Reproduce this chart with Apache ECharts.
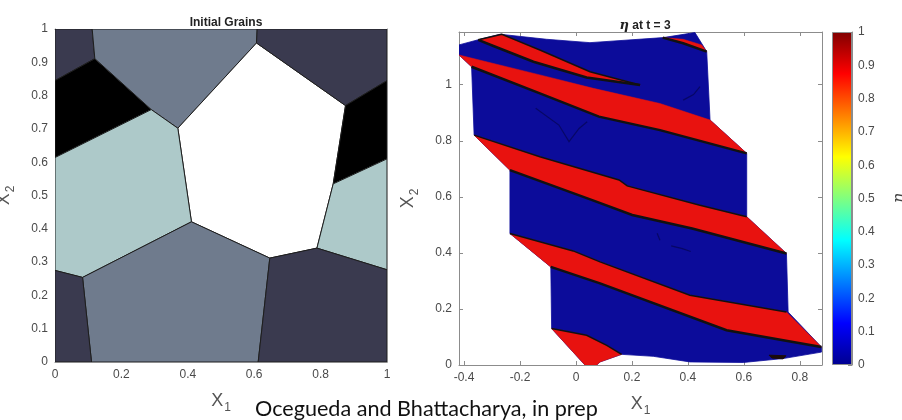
<!DOCTYPE html>
<html>
<head>
<meta charset="utf-8">
<script src="https://cdn.jsdelivr.net/npm/echarts@6/dist/echarts.min.js"></script>
<style>
    html, body { margin: 0; padding: 0; background: #fff; }
    #main { width: 902px; height: 420px; }
</style>
</head>
<body>
<div id="main"></div>
<script>
// ---- left panel: initial grains (x1, x2 in [0,1]) ----
var grainPolys = [
    [[0, 1], [0.112, 1], [0.12, 0.911], [0, 0.845]],
    [[0, 0.845], [0.12, 0.911], [0.29, 0.758], [0, 0.614]],
    [[0.112, 1], [0.609, 1], [0.607, 0.958], [0.37, 0.702], [0.29, 0.758], [0.12, 0.911]],
    [[0.607, 0.958], [0.875, 0.77], [0.838, 0.535], [0.789, 0.342], [0.647, 0.312], [0.411, 0.421], [0.37, 0.702]],
    [[0.609, 1], [1, 1], [1, 0.845], [0.875, 0.77], [0.607, 0.958]],
    [[0.875, 0.77], [1, 0.845], [1, 0.61], [0.838, 0.535]],
    [[0, 0.614], [0.29, 0.758], [0.37, 0.702], [0.411, 0.421], [0.083, 0.254], [0, 0.275]],
    [[0.838, 0.535], [1, 0.61], [1, 0.277], [0.789, 0.342]],
    [[0.083, 0.254], [0.411, 0.421], [0.647, 0.312], [0.612, 0], [0.11, 0]],
    [[0, 0.275], [0.083, 0.254], [0.11, 0], [0, 0]],
    [[0.647, 0.312], [0.789, 0.342], [1, 0.277], [1, 0], [0.612, 0]]
];
var grainShade = [0, 1, 2, 4, 0, 1, 3, 3, 2, 0, 0];
var shadeColors = ['#3a3a4f', '#000000', '#6f7b8d', '#adc9c9', '#ffffff'];

// ---- right panel: eta at t = 3 (deformed domain) ----
var outline = [
    [-0.418, 1.142], [-0.343, 1.162], [-0.271, 1.180], [-0.105, 1.162], [0.050, 1.150],
    [0.312, 1.168], [0.425, 1.186], [0.467, 1.118], [0.479, 0.874], [0.610, 0.755],
    [0.610, 0.529], [0.752, 0.398], [0.758, 0.189], [0.877, 0.064], [0.877, 0.046],
    [0.740, 0.023], [0.598, 0.009], [0.407, 0.011], [0.276, 0.031], [0.163, 0.038],
    [0.086, 0.011], [0.074, 0.0], [0.032, 0.0], [-0.087, 0.130], [-0.090, 0.350],
    [-0.236, 0.469], [-0.236, 0.695], [-0.364, 0.820], [-0.373, 1.064], [-0.418, 1.106]
];
// red bands (eta ~ 0.9): upper edge and lower edge
var stripeUpper = [
    [[-0.349, 1.160], [-0.265, 1.180], [-0.129, 1.124], [0.050, 1.046], [0.229, 0.999]],
    [[-0.418, 1.106], [-0.129, 1.035], [0.062, 0.987], [0.300, 0.933], [0.479, 0.874]],
    [[-0.364, 0.820], [-0.129, 0.743], [0.154, 0.660], [0.183, 0.639], [0.443, 0.570], [0.610, 0.529]],
    [[-0.236, 0.469], [-0.010, 0.407], [0.086, 0.368], [0.407, 0.249], [0.752, 0.189]],
    [[-0.087, 0.130], [0.038, 0.106], [0.110, 0.070], [0.163, 0.038]],
    [[0.310, 1.168], [0.383, 1.162], [0.449, 1.142], [0.467, 1.118]]
];
var stripeLower = [
    [[-0.349, 1.160], [-0.295, 1.138], [-0.152, 1.082], [0.038, 1.026], [0.229, 0.999]],
    [[-0.373, 1.064], [-0.129, 0.969], [0.082, 0.886], [0.300, 0.838], [0.610, 0.755]],
    [[-0.236, 0.695], [0.058, 0.588], [0.201, 0.535], [0.415, 0.487], [0.752, 0.398]],
    [[-0.090, 0.350], [0.086, 0.291], [0.538, 0.124], [0.877, 0.064]],
    [[0.032, 0.0], [0.074, 0.0], [0.086, 0.011], [0.163, 0.038]],
    [[0.310, 1.168], [0.383, 1.148], [0.467, 1.118]]
];
// which band edges are interfaces (drawn black)
var edgeDrawn = [[1, 1], [0, 1], [1, 1], [1, 1], [1, 0], [0, 1]];
// faint contour traces inside the blue zones, and small dark spots at the bottom
var traceLines = [
    [[-0.144, 0.916], [-0.061, 0.856], [-0.025, 0.797], [0.011, 0.844], [0.040, 0.868]],
    [[0.383, 0.945], [0.420, 0.965], [0.443, 0.993]],
    [[0.290, 0.470], [0.300, 0.445]],
    [[0.340, 0.425], [0.380, 0.415], [0.410, 0.405]]
];
var darkSpots = [
    [[0.690, 0.035], [0.750, 0.033], [0.740, 0.022], [0.700, 0.025]],
    [[0.035, 0.0], [0.070, 0.0], [0.075, 0.008], [0.045, 0.010]]
];
var lowColor = '#0c0c9a';
var highColor = '#e8120f';

// ---- tick labels ----
var leftXTicks = [0, 0.2, 0.4, 0.6, 0.8, 1];
var barTicks = [0, 0.1, 0.2, 0.3, 0.4, 0.5, 0.6, 0.7, 0.8, 0.9, 1];

var jetStops = [
    { offset: 0, color: '#00008f' },
    { offset: 0.125, color: '#0000ff' },
    { offset: 0.375, color: '#00ffff' },
    { offset: 0.625, color: '#ffff00' },
    { offset: 0.875, color: '#ff0000' },
    { offset: 1, color: '#800000' }
];

var axisGray = '#8c8c8c';
var labelGray = '#4a4a4a';
var font = 'Liberation Sans, Arial, sans-serif';

function xName(sub) {
    return '{x|X}{s|' + sub + '}';
}
var nameRich = {
    x: { fontSize: 18, color: '#555', fontFamily: font, verticalAlign: 'top' },
    s: { fontSize: 12, color: '#555', fontFamily: font, verticalAlign: 'top', padding: [10, 0, 0, 1] }
};

function boxAxis(gridIndex, pos, extra) {
    var ax = {
        gridIndex: gridIndex,
        type: 'value',
        position: pos,
        axisLine: { show: true, onZero: false, lineStyle: { color: axisGray, width: 1 } },
        axisTick: { show: true, inside: true, length: 4, lineStyle: { color: axisGray } },
        axisLabel: { show: false },
        splitLine: { show: false }
    };
    for (var k in extra) ax[k] = extra[k];
    return ax;
}

var labelStyle = { show: true, color: labelGray, fontSize: 12, fontFamily: font, margin: 7 };

var myChart = echarts.init(document.getElementById('main'), null, { renderer: 'canvas' });

var option = {
    animation: false,
    backgroundColor: '#fff',
    title: [{
        text: 'Initial Grains',
        left: 221, top: 12, textAlign: 'center',
        textStyle: { fontSize: 12, fontWeight: 'bold', color: '#222', fontFamily: font }
    }, {
        text: '{e|η} at t = 3',
        left: 640, top: 14, textAlign: 'center',
        textStyle: {
            fontSize: 12, fontWeight: 'bold', color: '#222', fontFamily: font,
            rich: { e: { fontSize: 13, fontStyle: 'italic', fontFamily: 'DejaVu Serif', color: '#222' } }
        }
    }],
    grid: [
        { left: 55, top: 29, width: 332, height: 333, outerBoundsMode: 'none', containLabel: false },
        { left: 459, top: 32, width: 363, height: 333, outerBoundsMode: 'none', containLabel: false },
        { left: 832, top: 32, width: 20, height: 333, outerBoundsMode: 'none', containLabel: false }
    ],
    xAxis: [
        boxAxis(0, 'bottom', {
            min: 0, max: 1, interval: 0.2,
            axisLabel: labelStyle,
            name: xName('1'), nameLocation: 'middle', nameGap: 30,
            nameTextStyle: { rich: nameRich }
        }),
        boxAxis(0, 'top', { min: 0, max: 1, interval: 0.2 }),
        boxAxis(1, 'bottom', {
            min: -0.418, max: 0.879, splitNumber: 6,
            axisLabel: { show: true, color: labelGray, fontSize: 12, fontFamily: font, margin: 7, showMinLabel: false, showMaxLabel: false },
            name: xName('1'), nameLocation: 'middle', nameGap: 30,
            nameTextStyle: { rich: nameRich }
        }),
        boxAxis(1, 'top', { min: -0.418, max: 0.879, splitNumber: 6 }),
        {
            gridIndex: 2, type: 'category', data: ['eta'],
            show: false
        }
    ],
    yAxis: [
        boxAxis(0, 'left', {
            min: 0, max: 1, interval: 0.1,
            axisLabel: labelStyle,
            name: xName('2'), nameLocation: 'middle', nameGap: 38, nameRotate: 90,
            nameTextStyle: { rich: nameRich }
        }),
        boxAxis(0, 'right', { min: 0, max: 1, interval: 0.1 }),
        boxAxis(1, 'left', {
            min: 0, max: 1.188, splitNumber: 6,
            axisLabel: { show: true, color: labelGray, fontSize: 12, fontFamily: font, margin: 7, showMinLabel: true, showMaxLabel: false },
            name: xName('2'), nameLocation: 'middle', nameGap: 38, nameRotate: 90,
            nameTextStyle: { rich: nameRich }
        }),
        boxAxis(1, 'right', { min: 0, max: 1.188, splitNumber: 6 }),
        boxAxis(2, 'right', {
            min: 0, max: 1, interval: 0.1,
            axisLabel: { show: true, color: labelGray, fontSize: 12, fontFamily: font, margin: 6 },
            name: 'η', nameLocation: 'middle', nameGap: 40, nameRotate: 90,
            nameTextStyle: { fontSize: 16, fontStyle: 'italic', fontFamily: 'DejaVu Serif', color: '#444' }
        })
    ],
    series: [{
        type: 'custom',
        xAxisIndex: 0, yAxisIndex: 0,
        clip: true,
        data: grainPolys.map(function (p, i) { return [i]; }),
        renderItem: function (params, api) {
            var pts = grainPolys[params.dataIndex].map(function (p) { return api.coord(p); });
            return {
                type: 'polygon',
                shape: { points: pts },
                style: { fill: shadeColors[grainShade[params.dataIndex]], stroke: '#1e1e1e', lineWidth: 1 }
            };
        }
    }, {
        // blue body of the deformed domain
        type: 'custom',
        xAxisIndex: 2, yAxisIndex: 2,
        clip: true,
        data: [[0]],
        renderItem: function (params, api) {
            var pts = outline.map(function (p) { return api.coord(p); });
            var kids = [{
                type: 'polygon',
                shape: { points: pts },
                style: { fill: lowColor, stroke: lowColor, lineWidth: 0.8 }
            }];
            traceLines.forEach(function (l) {
                kids.push({
                    type: 'polyline',
                    shape: { points: l.map(function (p) { return api.coord(p); }) },
                    style: { fill: null, stroke: '#060650', lineWidth: 1.2, opacity: 0.7 }
                });
            });
            darkSpots.forEach(function (s) {
                kids.push({
                    type: 'polygon',
                    shape: { points: s.map(function (p) { return api.coord(p); }) },
                    style: { fill: '#1a0a0a', stroke: '#1a0a0a', lineWidth: 1 }
                });
            });
            return { type: 'group', children: kids };
        }
    }, {
        // red bands with black interfaces
        type: 'custom',
        xAxisIndex: 2, yAxisIndex: 2,
        clip: true,
        data: stripeUpper.map(function (p, i) { return [i]; }),
        renderItem: function (params, api) {
            var i = params.dataIndex;
            var up = stripeUpper[i].map(function (p) { return api.coord(p); });
            var low = stripeLower[i].map(function (p) { return api.coord(p); });
            var poly = up.concat(low.slice().reverse());
            var kids = [{
                type: 'polygon',
                shape: { points: poly },
                style: { fill: highColor, stroke: highColor, lineWidth: 0.5 }
            }];
            if (edgeDrawn[i][0]) {
                kids.push({ type: 'polyline', shape: { points: up }, style: { fill: null, stroke: '#111', lineWidth: 1.5 } });
            }
            if (edgeDrawn[i][1]) {
                kids.push({ type: 'polyline', shape: { points: low }, style: { fill: null, stroke: '#111', lineWidth: 2.5 } });
            }
            return { type: 'group', children: kids };
        }
    }, {
        // colorbar
        type: 'bar',
        xAxisIndex: 4, yAxisIndex: 4,
        barWidth: '100%',
        silent: true,
        data: [1],
        itemStyle: {
            color: new echarts.graphic.LinearGradient(0, 1, 0, 0, jetStops),
            borderColor: axisGray, borderWidth: 1
        }
    }],
    graphic: [{
        type: 'text',
        left: 255, top: 398,
        style: {
            text: 'Ocegueda and Bhattacharya, in prep',
            fontSize: 21.6, fontFamily: 'Lato, Open Sans, sans-serif', fill: '#111'
        }
    }]
};

myChart.setOption(option);
</script>
</body>
</html>
